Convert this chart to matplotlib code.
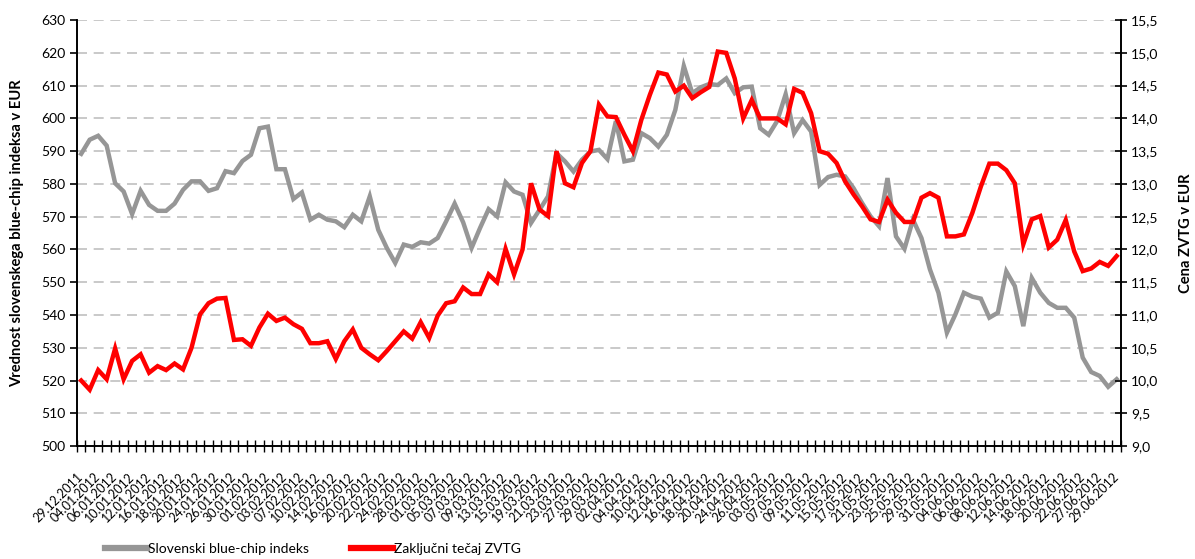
import matplotlib

matplotlib.use("Agg")
import matplotlib.pyplot as plt
import numpy as np

# datumi (vsak drugi trgovalni dan je oznacen)
label_dates = [
    "29.12.2011", "04.01.2012", "06.01.2012", "10.01.2012", "12.01.2012",
    "16.01.2012", "18.01.2012", "20.01.2012", "24.01.2012", "26.01.2012",
    "30.01.2012", "01.02.2012", "03.02.2012", "07.02.2012", "10.02.2012",
    "14.02.2012", "16.02.2012", "20.02.2012", "22.02.2012", "24.02.2012",
    "28.02.2012", "01.03.2012", "05.03.2012", "07.03.2012", "09.03.2012",
    "13.03.2012", "15.03.2012", "19.03.2012", "21.03.2012", "23.03.2012",
    "27.03.2012", "29.03.2012", "02.04.2012", "04.04.2012", "10.04.2012",
    "12.04.2012", "16.04.2012", "18.04.2012", "20.04.2012", "24.04.2012",
    "26.04.2012", "03.05.2012", "07.05.2012", "09.05.2012", "11.05.2012",
    "15.05.2012", "17.05.2012", "21.05.2012", "23.05.2012", "25.05.2012",
    "29.05.2012", "31.05.2012", "04.06.2012", "06.06.2012", "08.06.2012",
    "12.06.2012", "14.06.2012", "18.06.2012", "20.06.2012", "22.06.2012",
    "27.06.2012", "29.06.2012",
]

# Slovenski blue-chip indeks (leva os)
sbi = [
    589.2, 593.5, 594.7, 591.7, 580.2, 577.7, 570.8, 577.9, 573.6, 571.8,
    571.8, 574.0, 578.2, 580.8, 580.8, 577.9, 578.7, 583.9, 583.3, 587.0,
    588.9, 597.0, 597.5, 584.5, 584.5, 575.4, 577.4, 569.1, 570.6, 569.1,
    568.6, 566.8, 570.6, 568.6, 576.2, 566.0, 560.5, 555.9, 561.5, 560.8,
    562.2, 561.8, 563.5, 568.6, 574.0, 568.3, 560.5, 566.6, 572.3, 570.1,
    580.5, 577.7, 576.7, 568.1, 572.1, 576.2, 589.4, 586.9, 583.8, 587.4,
    589.9, 590.4, 587.6, 599.2, 586.9, 587.4, 595.5, 594.0, 591.4, 595.0,
    602.6, 616.0, 607.7, 609.5, 610.5, 610.2, 612.2, 607.7, 609.5, 609.7,
    597.0, 595.0, 599.2, 607.4, 595.5, 599.5, 596.0, 579.7, 582.1, 582.8,
    582.3, 578.7, 574.2, 570.1, 567.1, 581.8, 564.0, 560.2, 569.1, 563.5,
    553.9, 546.8, 534.6, 540.2, 546.8, 545.6, 545.0, 539.2, 540.7, 553.3,
    548.8, 536.6, 551.3, 546.8, 543.7, 542.2, 542.2, 539.2, 527.0, 522.6,
    521.4, 518.1, 520.4,
]

# Zakljucni tecaj ZVTG (desna os, EUR)
zvtg = [
    10.00, 9.86, 10.16, 10.02, 10.49, 10.02, 10.30, 10.40, 10.12, 10.22,
    10.16, 10.26, 10.17, 10.50, 11.01, 11.18, 11.25, 11.26, 10.62, 10.63,
    10.53, 10.81, 11.02, 10.91, 10.96, 10.86, 10.79, 10.57, 10.57, 10.60,
    10.33, 10.60, 10.78, 10.50, 10.40, 10.31, 10.45, 10.60, 10.75, 10.64,
    10.89, 10.65, 10.99, 11.18, 11.21, 11.42, 11.32, 11.32, 11.62, 11.50,
    12.01, 11.62, 12.00, 13.01, 12.61, 12.51, 13.50, 13.01, 12.95, 13.32,
    13.50, 14.21, 14.03, 14.02, 13.75, 13.50, 13.98, 14.36, 14.70, 14.67,
    14.41, 14.50, 14.31, 14.40, 14.48, 15.02, 15.00, 14.61, 14.00, 14.28,
    14.00, 14.00, 14.00, 13.91, 14.45, 14.39, 14.08, 13.50, 13.46, 13.32,
    13.04, 12.84, 12.66, 12.46, 12.42, 12.76, 12.56, 12.42, 12.42, 12.79,
    12.86, 12.79, 12.20, 12.20, 12.23, 12.56, 12.96, 13.31, 13.31, 13.21,
    13.01, 12.08, 12.46, 12.51, 12.03, 12.15, 12.45, 11.97, 11.67, 11.71,
    11.81, 11.75, 11.90,
]

GRAY = "#969696"
RED = "#ff0000"
FONT = ["Lato", "DejaVu Sans"]

plt.rcParams["font.family"] = FONT

x = np.arange(len(sbi))

fig = plt.figure(figsize=(11.95, 5.59), dpi=100)
ax = fig.add_axes([0.0644, 0.202, 0.8736, 0.762])
ax2 = ax.twinx()

ax.plot(x, sbi, color=GRAY, lw=3.2, solid_joinstyle="miter", zorder=3)
ax2.plot(x, zvtg, color=RED, lw=3.2, solid_joinstyle="miter", zorder=3)

ax.set_ylim(500, 630)
ax.set_yticks(np.arange(500, 631, 10))
ax2.set_ylim(9.0, 15.5)
ax2.set_yticks(np.arange(9.0, 15.51, 0.5))
ax2.set_yticklabels([f"{v:.1f}".replace(".", ",") for v in np.arange(9.0, 15.51, 0.5)])

ax.set_xlim(-0.5, len(sbi) - 0.5)
ax.set_xticks(x[::2])
ax.set_xticklabels(label_dates, rotation=45, ha="right", va="center",
                   rotation_mode="anchor", fontsize=9)
ax.set_xticks(np.arange(-0.5, len(sbi)), minor=True)
ax.tick_params(axis="x", which="major", length=0, pad=21)
ax.tick_params(axis="x", which="minor", direction="inout", length=8, width=1)

ax.grid(axis="y", color="#c0c0c0", ls=(0, (6, 4)), lw=1.2)
ax.set_axisbelow(True)

for a in (ax, ax2):
    a.spines["top"].set_visible(False)
    for s in a.spines.values():
        s.set_linewidth(1.2)
ax.tick_params(axis="y", direction="out", length=5, width=1.2, labelsize=10)
ax2.tick_params(axis="y", direction="inout", length=8, width=1.2, labelsize=10)

ax.set_ylabel("Vrednost slovenskega blue-chip indeksa v EUR", fontsize=10.6, fontweight="bold")
ax.yaxis.set_label_coords(-0.051, 0.5)
ax2.set_ylabel("Cena ZVTG v EUR", fontsize=10.6, fontweight="bold")
ax2.yaxis.set_label_coords(1.056, 0.5)

h1 = plt.Line2D([], [], color=GRAY, lw=4.5)
h2 = plt.Line2D([], [], color=RED, lw=4.5)
fig.legend([h1, h2], ["Slovenski blue-chip indeks", "Zaključni tečaj ZVTG"],
           loc="center", bbox_to_anchor=(0.262, 0.018), ncol=2, frameon=False,
           fontsize=10, handlelength=3.0, handletextpad=0.1, columnspacing=3.0)

fig.savefig("out.png", dpi=100)
